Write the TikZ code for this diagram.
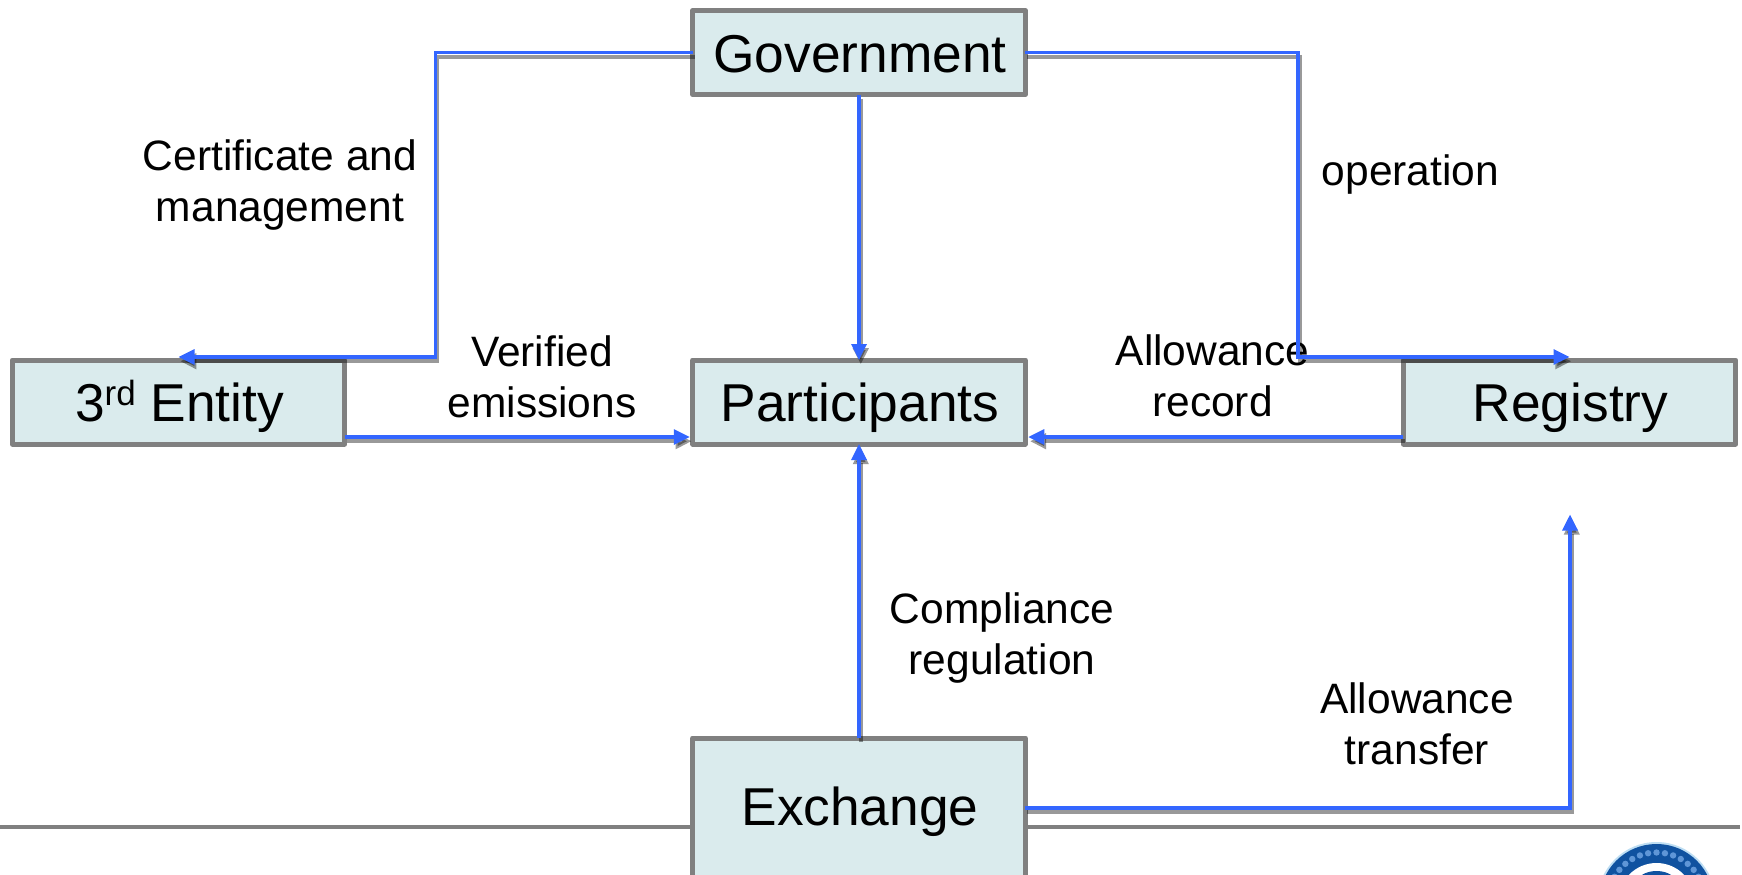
\documentclass[tikz,border=0pt]{standalone}
\usepackage{fontspec}
\setmainfont{Liberation Sans}
\usetikzlibrary{arrows.meta}
\definecolor{boxfill}{RGB}{218,235,237}
\definecolor{boxline}{RGB}{128,128,128}
\definecolor{linkblue}{RGB}{51,102,255}
\definecolor{sealblue}{RGB}{16,82,160}
\definecolor{sealdot}{RGB}{95,150,215}
\definecolor{seallight}{RGB}{190,222,243}
\tikzset{
  x=1pt,y=-1pt,
  actor/.style={draw=boxline,line width=5pt,fill=boxfill,line join=round,outer sep=0pt,minimum width=332.5pt,minimum height=84pt,inner sep=0pt,text height=45pt,text depth=6pt,font=\fontsize{53.3}{60}\selectfont,text=black,execute at begin node={\hspace*{2pt}}},
  caption/.style={align=center,font=\fontsize{42.5}{51.5}\selectfont,text=black,inner sep=0pt},
  link/.style={draw=linkblue,line width=3.3pt,-{Triangle[length=16pt,width=15pt]},
    preaction={draw=black,opacity=0.4,line width=4pt,transform canvas={shift={(1.8pt,-4.2pt)}}}},
}
\begin{document}
\begin{tikzpicture}
\useasboundingbox (0,0) rectangle (1742,875);
% footer rule and seal
\draw[line width=3.4pt,draw=boxline] (0,827) coordinate (ruleL) -- (1740,827) coordinate (ruleR);
\begin{scope}
\clip (1560,830) rectangle (1742,875);
\fill[seallight] (1656.5,901) circle (59);
\fill[sealblue] (1656.5,901) circle (57);
\fill[white] (1656.5,901) circle (38);
\fill[sealblue] (1656.5,901) circle (30);
\foreach \a in {-150,-140,...,-30}{\fill[sealdot] (1656.5,901) ++(\a:48.5) circle (3.2);}
\end{scope}
% boxes
\node[actor] (gov) at (859,52.5) {Government};
\node[actor] (ent) at (178.5,402) {3\raisebox{16.5pt}{\fontsize{35}{38}\selectfont rd} Entity};
\node[actor] (par) at (859,402) {Participants};
\node[actor] (reg) at (1569.5,402) {Registry};
\node[actor,minimum height=150pt,text height=87pt,text depth=63pt] (exc) at (859,813) {Exchange};
% labels
\node[caption] (l1) at (280,185) {Certificate and\\management};
\node[caption] (l2) at (1410.5,175) {operation};
\node[caption] (l3) at (542,377) {Verified\\emissions};
\node[caption] (l4) at (1212.5,376) {Allowance\\record};
\node[caption] (l5) at (1002,638) {Compliance\\regulation};
\node[caption] (l6) at (1417,724) {Allowance\\transfer};
% free ends
\coordinate (leftbend) at (435.5,200);
\coordinate (rightbend) at (1298,200);
\coordinate (regfree) at (1570,514.5);
% connectors
\draw[link] (gov.west) -| (leftbend) |- ([yshift=3pt]ent.north);
\draw[link] (gov.east) -| (rightbend) |- ([yshift=3pt]reg.north);
\draw[link] (gov.south) -- (par.north);
\draw[link] (exc.north) -- (par.south);
\draw[link] ([yshift=-35pt]ent.east) -- ([yshift=-35pt,xshift=-3pt]par.west);
\draw[link] ([yshift=-35pt]reg.west) -- ([yshift=-35pt,xshift=3pt]par.east);
\draw[link] ([yshift=5pt]exc.east) -| (regfree);
\end{tikzpicture}
\end{document}
